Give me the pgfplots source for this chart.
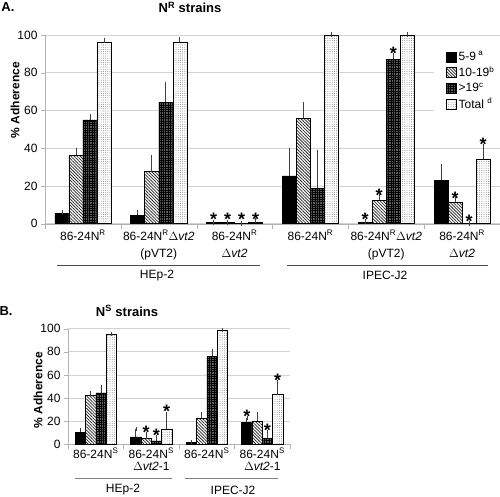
\documentclass[border=0pt]{standalone}
\usepackage{fontspec}
\setmainfont{Liberation Sans}
\usepackage{pgfplots}
\pgfplotsset{compat=1.18}
\usetikzlibrary{patterns.meta}
\newcommand{\starsym}{\fontsize{18}{18}\selectfont\bfseries *}
\newcommand{\dvt}{$\Delta$\textit{vt2}}
\pgfplotsset{
 ser1/.style={fill=black, draw=black, line width=0.5pt},
 ser2/.style={fill=white, draw=black, line width=0.5pt, postaction={pattern={Lines[angle=-45,distance=2.2pt,line width=0.75pt]}, pattern color=black!85}},
 ser3/.style={fill=black!65, draw=black, line width=0.5pt, postaction={pattern={Hatch[angle=0,distance=2.3pt,line width=0.8pt]}, pattern color=black}},
 ser4/.style={fill=white, draw=black, line width=0.5pt, postaction={pattern={Dots[distance=2.2pt,radius=0.45pt]}, pattern color=black!55}},
 eb/.style={error bars/.cd, y dir=plus, y explicit,
   error bar style={line width=0.7pt, draw=black!75},
   error mark options={line width=0.7pt, draw=black!75, mark size=#1}},
 stars/.style={sharp plot, draw=none, mark=none, forget plot, bar shift=0pt,
   nodes near coords={\starsym}, nodes near coords style={inner sep=0pt, yshift=-4.5pt}},
 common/.style={
   scale only axis, ybar, bar width=0.185,
   ymin=0, ymax=100, ytick={0,20,...,100},
   axis lines*=left, axis line style={draw=gray!60, -},
   tick align=outside, major tick length=4pt, minor tick length=5pt,
   ymajorgrids, grid style={gray!35, line width=0.6pt},
   ytick style={draw=gray!60},
   major x tick style={draw=none},
   minor x tick style={draw=gray!60},
   /pgf/number format/assume math mode=true,
   yticklabel style={font=\fontsize{12}{14}\selectfont},
   clip=false,
 },
}
\begin{document}
\begin{tikzpicture}[x=1pt,y=1pt]
\path[use as bounding box] (0,0) rectangle (500,496);
% ---------------- Panel A ----------------
\begin{axis}[common,
  at={(45pt,272.3pt)}, anchor=south west,
  width=455pt, height=188.7pt,
  xmin=-0.5, xmax=5.5,
  xtick={0,...,5}, minor xtick={-0.5,0.5,...,5.5},
  xticklabels={{86-24N\textsuperscript{R}}, {86-24N\textsuperscript{R}\dvt\\(pVT2)}, {86-24N\textsuperscript{R}\\\dvt}, {\raisebox{-7pt}{86-24N\textsuperscript{R}}}, {86-24N\textsuperscript{R}\dvt\\(pVT2)}, {86-24N\textsuperscript{R}\\\dvt}},
  xticklabel style={font=\fontsize{12}{17}\selectfont, align=center, yshift=1pt},
  legend style={at={(axis description cs:0.855,0.955)}, anchor=north west, draw=none, fill=white,
     font=\fontsize{12}{14}\selectfont, inner xsep=12pt, inner ysep=6pt, row sep=0.8pt},
  legend cell align=left,
  legend image code/.code={\draw[#1, line width=0.5pt] (0pt,-5pt) rectangle (10pt,5pt);},
]
\addplot[ser1, bar shift=-0.2775, eb=2.5pt] coordinates {(0,5.6) +- (0,0.5) (1,4.6) +- (0,1.4) (2,0.6) +- (0,0.2) (3,25.4) +- (0,13.6) (4,0.9) +- (0,0.3) (5,23) +- (0,7.4)};
\addplot[ser2, bar shift=-0.0925, eb=2.5pt] coordinates {(0,36.4) +- (0,2.6) (1,27.6) +- (0,7.4) (2,0.6) +- (0,0.2) (3,56) +- (0,7) (4,12.5) +- (0,1.8) (5,11.3) +- (0,1.4)};
\addplot[ser3, bar shift=0.0925, eb=2.5pt] coordinates {(0,55) +- (0,2) (1,64.3) +- (0,9.6) (2,0.2) +- (0,0.1) (3,18.9) +- (0,18.9) (4,87.1) +- (0,2.1) (5,0.2) +- (0,0.1)};
\addplot[ser4, bar shift=0.2775, eb=2.5pt] coordinates {(0,96.1) +- (0,1.1) (1,96.1) +- (0,1.6) (2,1.0) +- (0,0.5) (3,100) +- (0,0) (4,100) +- (0,0.3) (5,34.1) +- (0,6.9)};
\legend{5-9\textsuperscript{ a}, 10-19\textsuperscript{b}, >19\textsuperscript{c}, Total \textsuperscript{d}}
\addplot[stars] coordinates {(1.7225,1.2) (1.9075,1.2) (2.0925,1.2) (2.2775,1.5) (3.7225,1.2) (3.9075,14.3) (4.0925,89.2) (4.9075,12.7) (5.0925,0.3) (5.2775,41)};
\end{axis}
\node[font=\fontsize{13}{15}\selectfont\bfseries] at (8,488.5) {A.};
\node[font=\fontsize{13}{15}\selectfont\bfseries] at (190,488.5) {N\textsuperscript{R} strains};
\node[font=\fontsize{12}{14}\selectfont\bfseries, rotate=90] at (15,396) {\% Adherence};
\draw[black!70, line width=0.8pt] (57,231) -- (260,231);
\draw[black!70, line width=0.8pt] (287,231) -- (488,231);
\node[font=\fontsize{12}{14}\selectfont] at (157,220.5) {HEp-2};
\node[font=\fontsize{12}{14}\selectfont] at (385,220.5) {IPEC-J2};
% ---------------- Panel B ----------------
\begin{axis}[common,
  at={(68pt,51.7pt)}, anchor=south west,
  width=222pt, height=115.7pt,
  xmin=-0.5, xmax=3.5,
  xtick={0,...,3}, minor xtick={-0.5,0.5,...,3.5},
  xticklabels={{86-24N\textsuperscript{S}}, {86-24N\textsuperscript{S}\\\dvt-1}, {86-24N\textsuperscript{S}}, {86-24N\textsuperscript{S}\\\dvt-1}},
  xticklabel style={font=\fontsize{12}{12.5}\selectfont, align=center, yshift=3.5pt},
]
\addplot[ser1, bar shift=-0.2775, eb=2pt] coordinates {(0,10.5) +- (0,1.5) (1,6.5) +- (0,6.5) (2,1.8) +- (0,0.6) (3,19) +- (0,3.5)};
\addplot[ser2, bar shift=-0.0925, eb=2pt] coordinates {(0,42) +- (0,2.5) (1,5) +- (0,4) (2,22.5) +- (0,4) (3,20) +- (0,6.5)};
\addplot[ser3, bar shift=0.0925, eb=2pt] coordinates {(0,44.5) +- (0,5) (1,3) +- (0,3) (2,76) +- (0,5) (3,5.4) +- (0,5)};
\addplot[ser4, bar shift=0.2775, eb=2pt] coordinates {(0,95) +- (0,0.3) (1,13) +- (0,13.5) (2,98.5) +- (0,0.7) (3,43) +- (0,11)};
\addplot[stars] coordinates {(0.9075,9) (1.0925,6) (1.2775,26.5) (2.7225,22.5) (3.0925,10.4) (3.2775,54)};
\end{axis}
\node[font=\fontsize{13}{15}\selectfont\bfseries] at (6,185) {B.};
\node[font=\fontsize{13}{15}\selectfont\bfseries] at (127,185) {N\textsuperscript{S} strains};
\node[font=\fontsize{12}{14}\selectfont\bfseries, rotate=90] at (38,106) {\% Adherence};
\draw[gray, line width=1.3pt] (75,17.7) -- (171.7,17.7);
\draw[gray, line width=1.3pt] (185,17.7) -- (278,17.7);
\node[font=\fontsize{12}{14}\selectfont] at (123,6) {HEp-2};
\node[font=\fontsize{12}{14}\selectfont] at (233,6) {IPEC-J2};
\end{tikzpicture}
\end{document}
